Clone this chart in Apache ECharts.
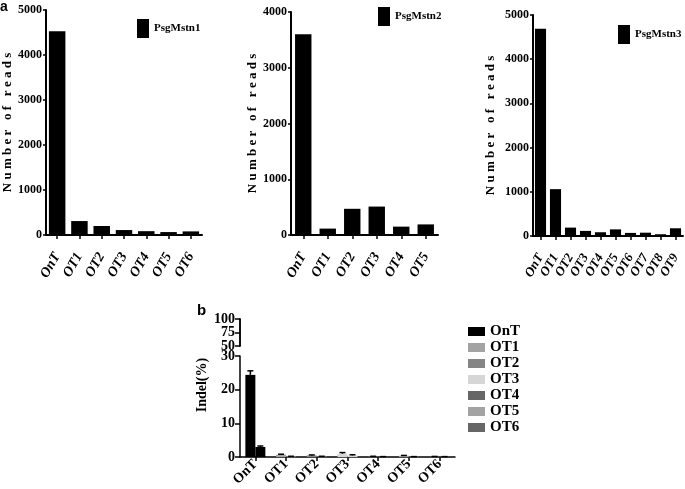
<!DOCTYPE html>
<html>
<head>
<meta charset="utf-8">
<script src="https://cdn.jsdelivr.net/npm/echarts@6/dist/echarts.min.js"></script>
<style>html,body{margin:0;padding:0;background:#fff}#c{width:685px;height:489px}</style>
</head>
<body>
<div id="c"></div>
<script>
// ---- data ----
const cats1 = ['OnT','OT1','OT2','OT3','OT4','OT5','OT6'];
const vals1 = [4530, 310, 200, 110, 85, 65, 80];
const cats2 = ['OnT','OT1','OT2','OT3','OT4','OT5'];
const vals2 = [3600, 115, 470, 510, 150, 190];
const cats3 = ['OnT','OT1','OT2','OT3','OT4','OT5','OT6','OT7','OT8','OT9'];
const vals3 = [4690, 1060, 190, 115, 85, 150, 70, 75, 40, 175];
const ticksA1 = [0, 1000, 2000, 3000, 4000, 5000];
const ticksA2 = [0, 1000, 2000, 3000, 4000];
const legendA = ['PsgMstn1', 'PsgMstn2', 'PsgMstn3'];

const catsB = ['OnT','OT1','OT2','OT3','OT4','OT5','OT6'];
const indel1 = [24.4, 0.7, 0.5, 1.0, 0.2, 0.4, 0.15];
const indel2 = [3.0, 0.2, 0.2, 0.5, 0.1, 0.1, 0.1];
const err1 = [1.2, 0.15, 0.15, 0.35, 0.05, 0.1, 0.05];
const err2 = [0.3, 0.05, 0.05, 0.2, 0.05, 0.05, 0.05];
const ticksBUpper = [50, 75, 100];
const ticksBLower = [0, 10, 20, 30];

// ---- styles ----
const catColors = ['#000000','#a3a3a3','#858585','#d6d6d6','#666666','#a3a3a3','#666666'];
const SERIF = 'Liberation Serif';
const BAR_W_B = 10;

const chart = echarts.init(document.getElementById('c'), null, {renderer: 'canvas'});

function plain(v) { return String(v); }

function yAxisA(gridIndex, ticks, gap) {
  return {
    type: 'value', gridIndex: gridIndex,
    min: ticks[0], max: ticks[ticks.length - 1], interval: ticks[1] - ticks[0],
    name: 'N u m b e r   o f   r e a d s', nameLocation: 'middle', nameRotate: 90, nameGap: gap,
    nameTextStyle: {fontFamily: SERIF, fontWeight: 'bold', fontSize: 13, color: '#000'},
    axisLine: {show: true, lineStyle: {color: '#000', width: 2}},
    axisTick: {show: true, length: 3, lineStyle: {color: '#000', width: 1.5}},
    axisLabel: {margin: 4, formatter: plain, fontFamily: SERIF, fontWeight: 'bold', fontSize: 12, color: '#000'},
    splitLine: {show: false}
  };
}
function xAxisA(gridIndex, cats, fs) {
  return {
    type: 'category', gridIndex: gridIndex, data: cats,
    axisLine: {show: true, lineStyle: {color: '#000', width: 2}},
    axisTick: {show: true, alignWithLabel: true, length: 4, lineStyle: {color: '#000', width: 1.5}},
    axisLabel: {interval: 0, rotate: 60, margin: 19, fontFamily: SERIF, fontWeight: 'bold', fontStyle: 'italic', fontSize: fs, color: '#000'}
  };
}
function legendA_(name, left, top) {
  return {
    data: [{name: name, icon: 'rect'}], left: left, top: top, padding: 0,
    itemWidth: 12, itemHeight: 19, itemGap: 0, itemTextGap: 6, selectedMode: false,
    textStyle: {fontFamily: SERIF, fontWeight: 'bold', fontSize: 11, color: '#000'}
  };
}
function upperAxis(interval, showEnds) {
  return {
    type: 'value', gridIndex: 3, position: 'left', offset: 0,
    min: ticksBUpper[0], max: ticksBUpper[ticksBUpper.length - 1], interval: interval,
    axisLine: {show: true, lineStyle: {color: '#000', width: 1.5}},
    axisTick: {show: true, length: 5, lineStyle: {color: '#000', width: 1.5}},
    axisLabel: {margin: 5, showMinLabel: showEnds, showMaxLabel: showEnds,
      fontFamily: SERIF, fontWeight: 'bold', fontSize: 14, color: '#000'},
    splitLine: {show: false}
  };
}

function errRender(offset) {
  return function (params, api) {
    const idx = api.value(0), v = api.value(1), e = api.value(2);
    const p0 = api.coord([idx, v]);
    const p1 = api.coord([idx, v + e]);
    const x = p0[0] + offset;
    return {
      type: 'group',
      children: [
        {type: 'line', shape: {x1: x, y1: p0[1], x2: x, y2: p1[1]}, style: {stroke: '#000', lineWidth: 1.5}},
        {type: 'line', shape: {x1: x - 3, y1: p1[1], x2: x + 3, y2: p1[1]}, style: {stroke: '#000', lineWidth: 1.5}}
      ]
    };
  };
}

const legendBData = catsB.map(function (c) { return {name: c, icon: 'rect'}; });

const option = {
  animation: false,
  backgroundColor: '#ffffff',
  title: [
    {text: 'a', left: 0, top: 0, padding: 0, textStyle: {fontFamily: 'Liberation Sans', fontWeight: 'bold', fontSize: 14, color: '#000'}},
    {text: 'b', left: 197, top: 303, padding: 0, textStyle: {fontFamily: 'Liberation Sans', fontWeight: 'bold', fontSize: 15, color: '#000'}}
  ],
  legend: [
    legendA_(legendA[0], 137, 19),
    legendA_(legendA[1], 378, 7),
    legendA_(legendA[2], 618, 25),
    {
      data: legendBData, orient: 'vertical', left: 468, top: 324, padding: 0,
      itemWidth: 17, itemHeight: 9, itemGap: 1, itemTextGap: 7, selectedMode: false,
      textStyle: {fontFamily: SERIF, fontWeight: 'bold', fontSize: 15, color: '#000'}
    }
  ],
  grid: [
    {left: 42, top: 10, width: 160, height: 225},
    {left: 291, top: 12, width: 147, height: 223},
    {left: 533, top: 15, width: 150, height: 221},
    {left: 240, top: 319, width: 215, height: 27},
    {left: 240, top: 356, width: 215, height: 102}
  ],
  xAxis: [
    xAxisA(0, cats1, 14),
    xAxisA(1, cats2, 14),
    xAxisA(2, cats3, 13),
    {type: 'category', gridIndex: 3, data: catsB, show: false},
    {
      type: 'category', gridIndex: 4, data: catsB,
      axisLine: {show: true, lineStyle: {color: '#000', width: 1.5}},
      axisTick: {show: true, alignWithLabel: true, length: 4, lineStyle: {color: '#000', width: 1.5}},
      axisLabel: {interval: 0, rotate: 45, margin: 5, fontFamily: SERIF, fontWeight: 'bold', fontSize: 14, color: '#000'}
    }
  ],
  yAxis: [
    yAxisA(0, ticksA1, 32),
    yAxisA(1, ticksA2, 29),
    yAxisA(2, ticksA1, 36),
    upperAxis(ticksBUpper[2] - ticksBUpper[0], true),
    {
      type: 'value', gridIndex: 4,
      min: ticksBLower[0], max: ticksBLower[ticksBLower.length - 1], interval: ticksBLower[1] - ticksBLower[0],
      name: 'Indel(%)', nameLocation: 'middle', nameRotate: 90, nameGap: 31,
      nameTextStyle: {fontFamily: SERIF, fontWeight: 'bold', fontSize: 14, color: '#000', padding: [0, 0, 0, 43]},
      axisLine: {show: true, lineStyle: {color: '#000', width: 1.5}},
      axisTick: {show: true, length: 5, lineStyle: {color: '#000', width: 1.5}},
      axisLabel: {margin: 5, showMinLabel: true, showMaxLabel: true,
        fontFamily: SERIF, fontWeight: 'bold', fontSize: 14, color: '#000'},
      splitLine: {show: false}
    },
    upperAxis(ticksBUpper[1] - ticksBUpper[0], false)
  ],
  series: [
    {name: legendA[0], type: 'bar', xAxisIndex: 0, yAxisIndex: 0, data: vals1, barCategoryGap: '26%', itemStyle: {color: '#000'}},
    {name: legendA[1], type: 'bar', xAxisIndex: 1, yAxisIndex: 1, data: vals2, barCategoryGap: '33%', itemStyle: {color: '#000'}},
    {name: legendA[2], type: 'bar', xAxisIndex: 2, yAxisIndex: 2, data: vals3, barCategoryGap: '26%', itemStyle: {color: '#000'}},
    {name: 'rep1', type: 'bar', xAxisIndex: 4, yAxisIndex: 4, data: indel1, barWidth: BAR_W_B, barGap: '0%',
      itemStyle: {color: function (p) { return catColors[p.dataIndex]; }}},
    {name: 'rep2', type: 'bar', xAxisIndex: 4, yAxisIndex: 4, data: indel2, barWidth: BAR_W_B, barGap: '0%',
      itemStyle: {color: function (p) { return catColors[p.dataIndex]; }}},
    {name: 'err1', type: 'custom', xAxisIndex: 4, yAxisIndex: 4, z: 5,
      data: indel1.map(function (v, i) { return [i, v, err1[i]]; }), renderItem: errRender(-BAR_W_B / 2)},
    {name: 'err2', type: 'custom', xAxisIndex: 4, yAxisIndex: 4, z: 5,
      data: indel2.map(function (v, i) { return [i, v, err2[i]]; }), renderItem: errRender(BAR_W_B / 2)}
  ].concat(catsB.map(function (c, i) {
    return {name: c, type: 'scatter', xAxisIndex: 3, yAxisIndex: 3, data: [], itemStyle: {color: catColors[i], opacity: 1}};
  }))
};
chart.setOption(option);
</script>
</body>
</html>
